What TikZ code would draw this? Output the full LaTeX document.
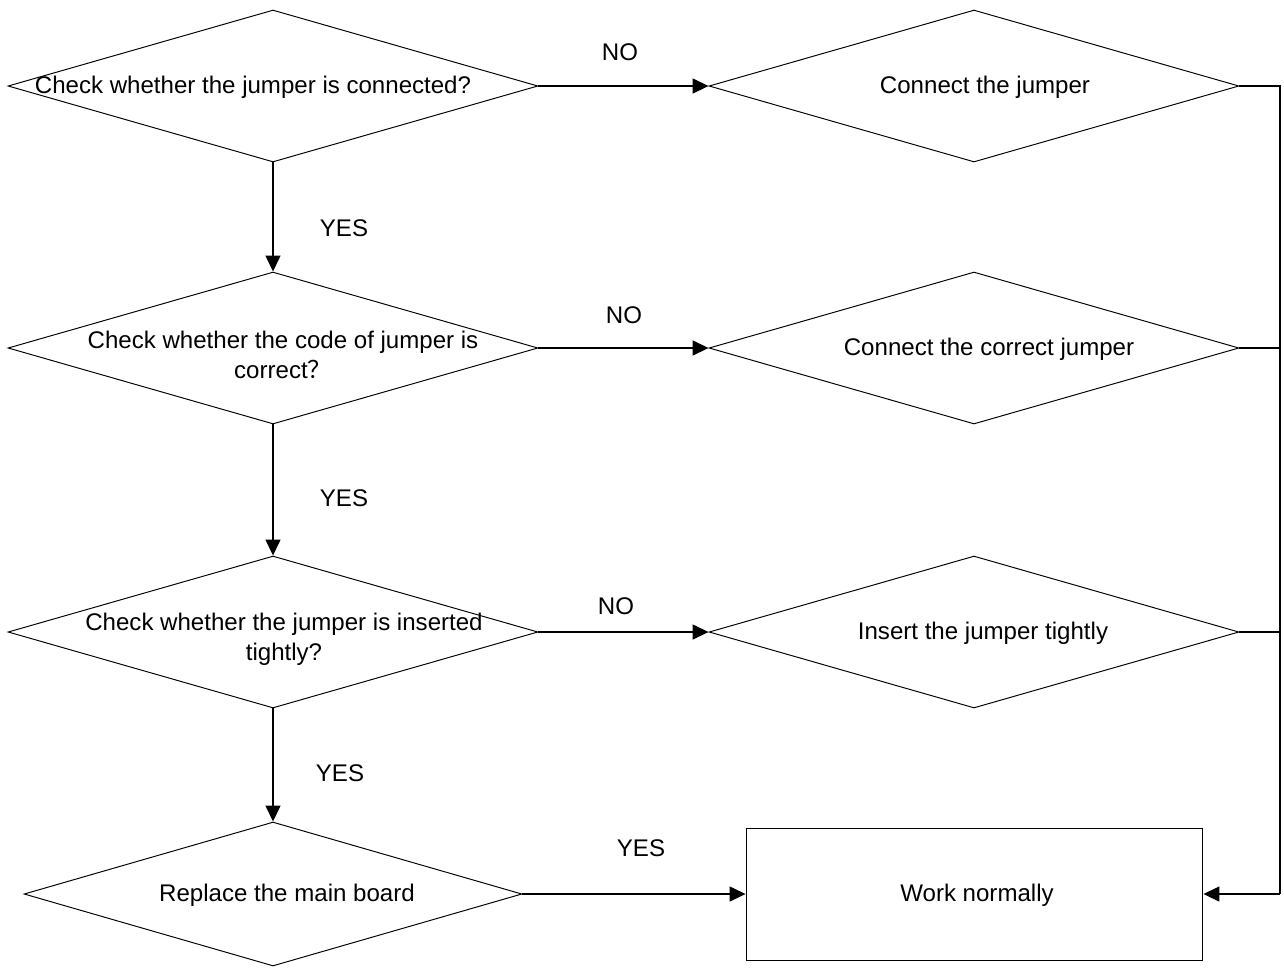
\documentclass[tikz,border=0pt]{standalone}
\usepackage{fontspec}
\setmainfont{Liberation Sans}
\newfontfamily\cjk{Noto Sans CJK SC}
\usepackage{xcolor}
\usepackage{tikz}
\usetikzlibrary{arrows.meta, positioning, shapes.geometric}

\begin{document}
\begin{tikzpicture}[
    x=0.02cm, y=-0.02cm,
    dia/.style={draw, diamond, inner sep=0pt, line width=0.55pt, minimum width=10.6cm, minimum height=3.04cm},
    box/.style={draw, rectangle, inner sep=0pt, line width=0.55pt, minimum width=9.14cm, minimum height=2.64cm},
    txt/.style={align=center, inner sep=0pt, font=\fontsize{13.7}{17}\selectfont},
    arrow/.style={-{Triangle[length=0.32cm, width=0.3cm]}, line width=0.8pt},
    line/.style={line width=0.8pt}
]
    \useasboundingbox (0,0) rectangle (1284,968);

    % left column
    \node[dia] (check1) at (273,86) {};
    \node[dia] (check2) at (273,348) {};
    \node[dia] (check3) at (273,632) {};
    \node[dia, minimum width=9.96cm, minimum height=2.88cm] (replace) at (273,894) {};

    % right column
    \node[dia] (fix1) at (974,86) {};
    \node[dia] (fix2) at (974,348) {};
    \node[dia] (fix3) at (974,632) {};
    \node[box] (work) at (974.5,894) {};

    % texts
    \node[txt] (tcheck1) at (253,87) {Check whether the jumper is connected?};
    \node[txt] (tcheck2) at (283,355) {Check whether the code of jumper is\\correct{\cjk ？}};
    \node[txt] (tcheck3) at (284,639) {Check whether the jumper is inserted\\tightly?};
    \node[txt] (treplace) at (287,895) {Replace the main board};
    \node[txt] (tfix1) at (985,87) {Connect the jumper};
    \node[txt] (tfix2) at (989,349) {Connect the correct jumper};
    \node[txt] (tfix3) at (983,633) {Insert the jumper tightly};
    \node[txt] (twork) at (977,895) {Work normally};

    % NO branches
    \node[txt] (no1) at (620,52) {NO};
    \node[txt] (no2) at (624,315) {NO};
    \node[txt] (no3) at (616,606) {NO};
    \draw[arrow] (check1.east) -- (fix1.west);
    \draw[arrow] (check2.east) -- (fix2.west);
    \draw[arrow] (check3.east) -- (fix3.west);

    % YES branches
    \node[txt] (yes1) at (344,228) {YES};
    \node[txt] (yes2) at (344,498) {YES};
    \node[txt] (yes3) at (340,773) {YES};
    \node[txt] (yes4) at (641,848) {YES};
    \draw[arrow] (check1.south) -- (check2.north);
    \draw[arrow] (check2.south) -- (check3.north);
    \draw[arrow] (check3.south) -- (replace.north);
    \draw[arrow] (replace.east) -- (work.west);

    % return line
    \coordinate (c1) at (1280,86);
    \coordinate (c2) at (1280,348);
    \coordinate (c3) at (1280,632);
    \coordinate (c4) at (1280,894);
    \draw[line] (fix1.east) -- (c1) -- (c4);
    \draw[line] (fix2.east) -- (c2);
    \draw[line] (fix3.east) -- (c3);
    \draw[arrow] (c4) -- (work.east);
\end{tikzpicture}
\end{document}
